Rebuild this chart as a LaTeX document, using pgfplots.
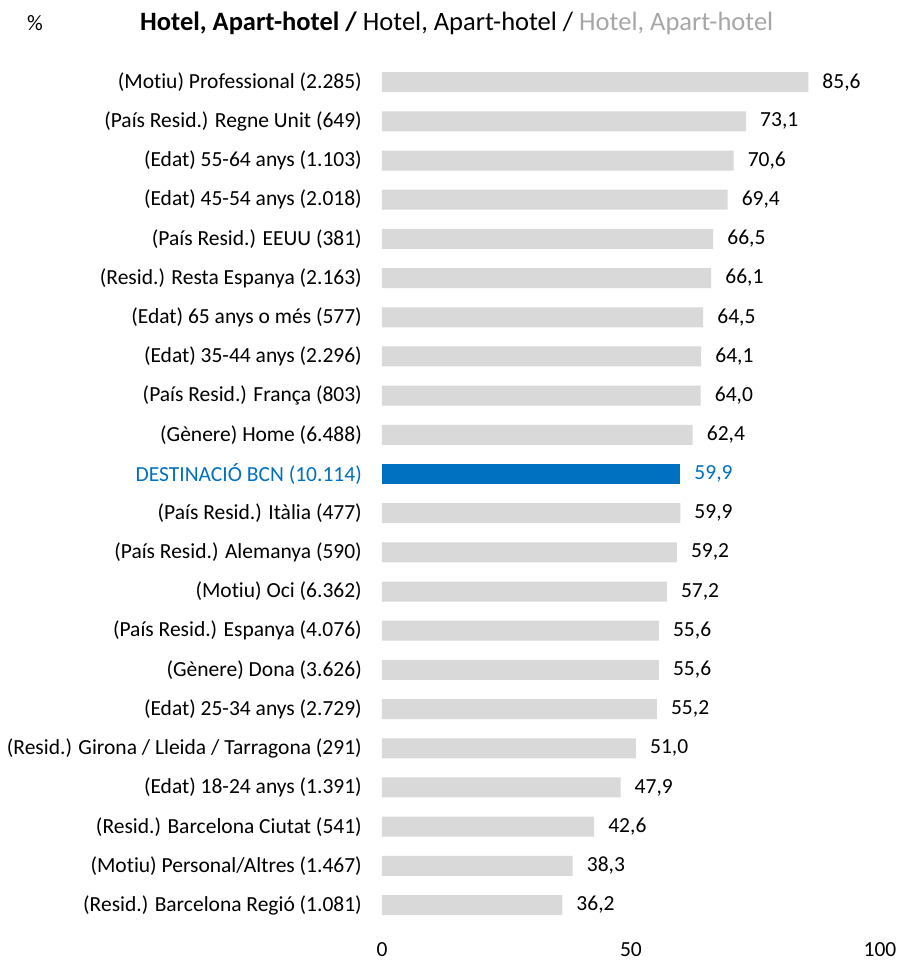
\documentclass[border=0pt]{standalone}
\usepackage{pgfplots}
\pgfplotsset{compat=1.18}
\usepackage{fontspec}
\setmainfont{Carlito}[Ligatures=NoCommon]
\definecolor{bargray}{RGB}{217,217,217}
\definecolor{bcnblue}{RGB}{0,112,192}
\definecolor{titlegray}{RGB}{166,166,166}

\begin{document}
\begin{tikzpicture}
\path[use as bounding box] (-382pt,-37.4pt) rectangle (515pt,924.6pt);
\begin{axis}[
  at={(0pt,0pt)}, anchor=south west,
  scale only axis, width=498pt, height=862pt,
  xbar, bar width=20pt,
  xmin=0, xmax=100, ymin=-0.5, ymax=21.5,
  axis line style={draw=none}, major tick length=0pt,
  /pgf/number format/assume math mode=true,
  xtick={0,50,100},
  ytick={0,...,21},
  yticklabels={
    (Resid.) Barcelona Regió (1.081),
    (Motiu) Personal/Altres (1.467),
    (Resid.) Barcelona Ciutat (541),
    (Edat) 18-24 anys (1.391),
    (Resid.) Girona / Lleida / Tarragona (291),
    (Edat) 25-34 anys (2.729),
    (Gènere) Dona (3.626),
    (País Resid.) Espanya (4.076),
    (Motiu) Oci (6.362),
    (País Resid.) Alemanya (590),
    (País Resid.) Itàlia (477),
    \textcolor{bcnblue}{DESTINACIÓ BCN (10.114)},
    (Gènere) Home (6.488),
    (País Resid.) França (803),
    (Edat) 35-44 anys (2.296),
    (Edat) 65 anys o més (577),
    (Resid.) Resta Espanya (2.163),
    (País Resid.) EEUU (381),
    (Edat) 45-54 anys (2.018),
    (Edat) 55-64 anys (1.103),
    (País Resid.) Regne Unit (649),
    (Motiu) Professional (2.285)},
  tick label style={font=\fontsize{21.5}{25}\selectfont},
  yticklabel style={anchor=east, inner sep=0pt, xshift=-20pt},
  xticklabel style={anchor=center, inner sep=0pt, yshift=-25pt},
  point meta=x,
  nodes near coords={\pgfmathprintnumber[use comma,fixed,fixed zerofill,precision=1,assume math mode=true]{\pgfplotspointmeta}},
  nodes near coords style={anchor=west, inner sep=0pt, xshift=14pt, font=\fontsize{21.5}{25}\selectfont},
]
\addplot[fill=bargray, draw=none, bar shift=0pt] coordinates {
  (36.2,0) (38.3,1) (42.6,2) (47.9,3) (51.0,4) (55.2,5) (55.6,6)
  (55.6,7) (57.2,8) (59.2,9) (59.9,10) (62.4,12) (64.0,13)
  (64.1,14) (64.5,15) (66.1,16) (66.5,17) (69.4,18) (70.6,19)
  (73.1,20) (85.6,21)};
\addplot[fill=bcnblue, draw=none, bar shift=0pt,
  nodes near coords style={text=bcnblue}] coordinates {(59.9,11)};
\end{axis}
\node[anchor=base west, inner sep=0pt, font=\fontsize{22}{26}\selectfont]
  at (-355pt,894pt) {\%};
\node[anchor=base west, inner sep=0pt, font=\fontsize{26.5}{30}\selectfont]
  at (-242pt,894pt) {\textbf{Hotel, Apart-hotel /} Hotel, Apart-hotel / \textcolor{titlegray}{Hotel, Apart-hotel}};
\end{tikzpicture}
\end{document}
